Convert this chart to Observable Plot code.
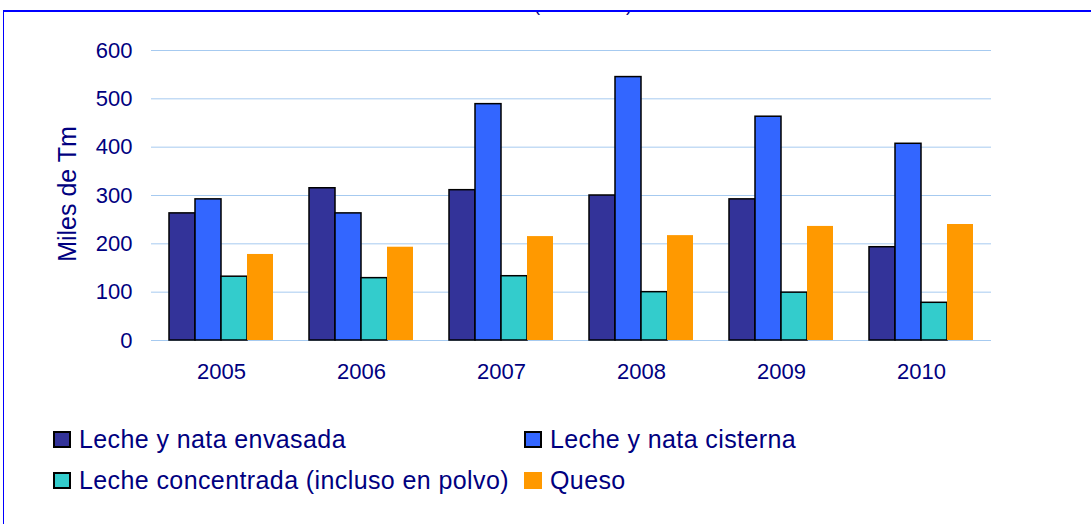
<!DOCTYPE html>
<html>
<head>
<meta charset="utf-8">
<script src="https://cdn.jsdelivr.net/npm/d3@7"></script>
<script src="https://cdn.jsdelivr.net/npm/@observablehq/plot@0.6"></script>
<style>
  html, body { margin: 0; padding: 0; background: #fff; overflow: hidden; width: 1091px; height: 524px; }
  body { position: relative; font-family: Arial, "Liberation Sans", sans-serif; color: #000080; }
  #frame { position: absolute; left: 3px; top: 10px; width: 1200px; height: 600px;
           border-top: 2px solid #0000FF; border-left: 1px solid #0000FF; box-sizing: border-box; }
  #titleclip { position: absolute; left: 0; top: 12px; width: 1091px; height: 10px; overflow: hidden; }
  #title { position: absolute; left: 583px; top: -16px; transform: translateX(-50%);
           font-size: 18px; line-height: 18px; white-space: nowrap; color: #000080; }
  #chart { position: absolute; left: 0; top: 0; }
  #ylabel { position: absolute; left: 67px; top: 194px; transform: translate(-50%, -50%) rotate(-90deg);
            font-size: 25px; white-space: nowrap; color: #000080; }
  .leg { position: absolute; display: flex; align-items: center; font-size: 25px; white-space: nowrap; color: #000080; letter-spacing: 0.4px; }
  .sw { width: 18px; height: 17px; box-sizing: border-box; margin-right: 8px; }
</style>
</head>
<body>
<div id="frame"></div>
<div id="titleclip"><div id="title">(2005-2010)</div></div>
<div id="chart"></div>
<div id="ylabel">Miles de Tm</div>
<div id="legend"></div>
<script>
const years = ["2005", "2006", "2007", "2008", "2009", "2010"];
const series = ["Leche y nata envasada", "Leche y nata cisterna", "Leche concentrada (incluso en polvo)", "Queso"];
const colors = ["#333399", "#3366FF", "#33CCCC", "#FF9900"];
const envasada = [263, 315, 311, 300, 292, 193];
const cisterna = [292, 263, 489, 545, 463, 407];
const concentrada = [132, 129, 133, 100, 99, 78];
const queso = [178, 193, 215, 217, 236, 240];
const yTicks = [0, 100, 200, 300, 400, 500, 600];
const outlined = [true, true, true, false];

const valuesBySeries = [envasada, cisterna, concentrada, queso];
const data = years.flatMap((yr, i) => series.map((s, j) => ({year: yr, series: s, value: valuesBySeries[j][i], outlined: outlined[j]})));

const chart = Plot.plot({
  width: 1091,
  height: 400,
  marginTop: 50,
  marginBottom: 60,
  marginLeft: 148,
  marginRight: 98,
  style: {fontFamily: "Arial, 'Liberation Sans', sans-serif", fontSize: "22px", color: "#000080", background: "transparent", overflow: "visible"},
  fx: {domain: years, padding: 0, label: null, tickSize: 0, tickPadding: 23, axis: "bottom"},
  x: {domain: series, paddingInner: 0, paddingOuter: 0.65, axis: null},
  y: {domain: [0, 600], ticks: yTicks, tickSize: 0, tickPadding: 19, label: null},
  color: {domain: series, range: colors},
  marks: [
    Plot.ruleY(yTicks, {stroke: "#A6CAF0", strokeWidth: 1}),
    Plot.barY(data.filter(d => d.outlined), {fx: "year", x: "series", y: "value", fill: "series", stroke: "#000", strokeWidth: 1.5}),
    Plot.barY(data.filter(d => !d.outlined), {fx: "year", x: "series", y: "value", fill: "series"})
  ]
});
document.getElementById("chart").appendChild(chart);

// legend
const legendPos = [[53, 439], [524, 439], [53, 480], [524, 480]];
const legend = document.getElementById("legend");
series.forEach((s, j) => {
  const item = document.createElement("div");
  item.className = "leg";
  item.style.left = legendPos[j][0] + "px";
  item.style.top = (legendPos[j][1] - 15) + "px";
  item.style.height = "30px";
  const sw = document.createElement("span");
  sw.className = "sw";
  sw.style.background = colors[j];
  if (outlined[j]) sw.style.border = "2px solid #000";
  const tx = document.createElement("span");
  tx.textContent = s;
  item.appendChild(sw);
  item.appendChild(tx);
  legend.appendChild(item);
});
</script>
</body>
</html>
